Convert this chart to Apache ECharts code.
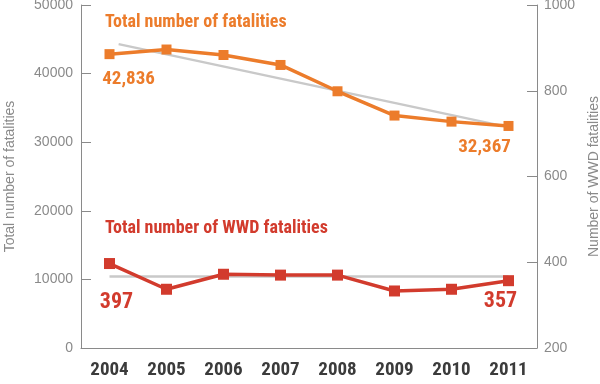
<!DOCTYPE html>
<html>
<head>
<meta charset="utf-8">
<script src="https://cdn.jsdelivr.net/npm/echarts@6/dist/echarts.min.js"></script>
<style>html,body{margin:0;padding:0;background:#fff}#c{width:600px;height:384px}</style>
</head>
<body>
<div id="c"></div>
<script>
const years = ['2004','2005','2006','2007','2008','2009','2010','2011'];
const totalFatalities = [42836, 43510, 42708, 41259, 37423, 33883, 32999, 32367];
const wwdFatalities = [397, 337, 372, 370, 370, 333, 337, 357];
// gray trend lines: [year position, value]
const totalTrend = [[2004.16, 44300], [2010.85, 32450]];
const wwdTrend = [[2004, 367], [2011, 367]];
const leftTicks = [0, 10000, 20000, 30000, 40000, 50000];
const rightTicks = [200, 400, 600, 800, 1000];

const ORANGE = '#EC7C2B';
const RED = '#D23B2D';
const GRAY = '#8a8a8a';
const COND = '"Roboto Condensed", "Liberation Sans", sans-serif';
const PLAIN = '"Liberation Sans", sans-serif';

const chart = echarts.init(document.getElementById('c'));

function endLabels(values, first, last) {
  return values.map((v, i) => {
    if (i === 0) return { value: v, label: Object.assign({ show: true }, first) };
    if (i === values.length - 1) return { value: v, label: Object.assign({ show: true }, last) };
    return v;
  });
}
const fmtThousands = p => p.value.toLocaleString('en-US');

chart.setOption({
  animation: false,
  grid: { left: 81, right: 63, top: 5, bottom: 36, containLabel: false, outerBoundsMode: 'none' },
  xAxis: [
    {
      type: 'category', data: years, boundaryGap: true,
      axisLine: { lineStyle: { color: GRAY, width: 1 } },
      axisTick: { inside: true, length: 9, lineStyle: { color: GRAY } },
      axisLabel: { interval: 0, color: '#3b3b3b', fontFamily: COND, fontWeight: 'bold', fontSize: 19, margin: 13 }
    },
    { type: 'value', min: 2003.5, max: 2011.5, show: false }
  ],
  yAxis: [
    {
      type: 'value', min: leftTicks[0], max: leftTicks[leftTicks.length - 1], interval: leftTicks[1] - leftTicks[0],
      name: 'Total number of fatalities', nameLocation: 'middle', nameRotate: 90, nameGap: 64,
      nameTextStyle: { color: GRAY, fontSize: 14, fontFamily: PLAIN },
      axisLine: { show: true, onZero: false, lineStyle: { color: GRAY } },
      axisTick: { show: true, inside: true, length: 10, lineStyle: { color: GRAY } },
      axisLabel: { color: GRAY, fontSize: 14, margin: 8, fontFamily: PLAIN, formatter: v => String(v) },
      splitLine: { show: false }
    },
    {
      type: 'value', min: rightTicks[0], max: rightTicks[rightTicks.length - 1], interval: rightTicks[1] - rightTicks[0], position: 'right',
      name: 'Number of WWD fatalities', nameLocation: 'middle', nameRotate: 90, nameGap: 50,
      nameTextStyle: { color: GRAY, fontSize: 14, fontFamily: PLAIN },
      axisLine: { show: true, onZero: false, lineStyle: { color: GRAY } },
      axisTick: { show: true, inside: true, length: 10, lineStyle: { color: GRAY } },
      axisLabel: { color: GRAY, fontSize: 14, margin: 7, fontFamily: PLAIN, formatter: v => String(v) },
      splitLine: { show: false }
    }
  ],
  graphic: [
    { type: 'text', left: 105, top: 13, style: { text: 'Total number of fatalities', fill: ORANGE, font: 'bold 18px ' + COND } },
    { type: 'text', left: 105, top: 219, style: { text: 'Total number of WWD fatalities', fill: RED, font: 'bold 18px ' + COND } }
  ],
  series: [
    {
      type: 'line', xAxisIndex: 1, yAxisIndex: 0, data: totalTrend, symbol: 'none', silent: true,
      lineStyle: { color: '#c9c9c9', width: 2.5 }, z: 1
    },
    {
      type: 'line', xAxisIndex: 1, yAxisIndex: 1, data: wwdTrend, symbol: 'none', silent: true,
      lineStyle: { color: '#c9c9c9', width: 2.5 }, z: 1
    },
    {
      type: 'line', xAxisIndex: 0, yAxisIndex: 0,
      data: endLabels(totalFatalities,
        { position: 'bottom', distance: 11, offset: [19, 0], formatter: fmtThousands },
        { position: 'bottom', distance: 7, offset: [-24, 0], formatter: fmtThousands }),
      symbol: 'rect', symbolSize: 10,
      itemStyle: { color: ORANGE },
      lineStyle: { color: ORANGE, width: 3.5 },
      label: { color: ORANGE, fontFamily: COND, fontWeight: 'bold', fontSize: 19 },
      z: 3
    },
    {
      type: 'line', xAxisIndex: 0, yAxisIndex: 1,
      data: endLabels(wwdFatalities,
        { position: 'bottom', distance: 22, offset: [7, 0] },
        { position: 'bottom', distance: 4, offset: [-8, 0] }),
      symbol: 'rect', symbolSize: 11,
      itemStyle: { color: RED },
      lineStyle: { color: RED, width: 3.5 },
      label: { color: RED, fontFamily: COND, fontWeight: 'bold', fontSize: 22 },
      z: 3
    }
  ]
});
</script>
</body>
</html>
